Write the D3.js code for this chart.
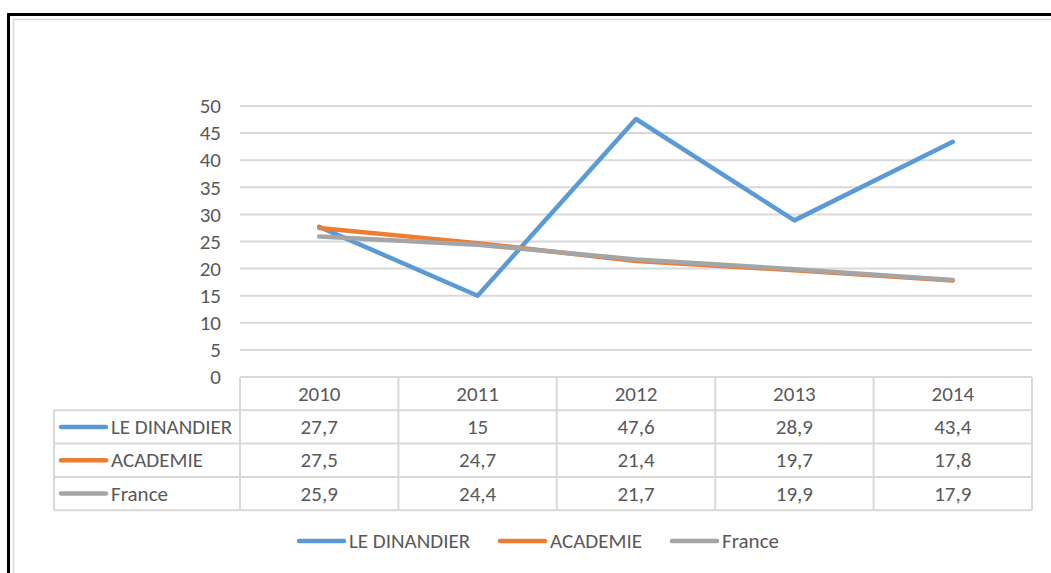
<!DOCTYPE html>
<html>
<head>
<meta charset="utf-8">
<script src="https://cdn.jsdelivr.net/npm/d3@7"></script>
<style>
  html, body { margin: 0; padding: 0; background: #fff; }
  svg { display: block; }
  text { font-family: Carlito, "Open Sans", "Noto Sans", sans-serif; fill: #595959; }
</style>
</head>
<body>
<svg id="chart" width="1051" height="573"></svg>
<script>
const years = ["2010", "2011", "2012", "2013", "2014"];
const seriesNames = ["LE DINANDIER", "ACADEMIE", "France"];
const dinandier = [27.7, 15, 47.6, 28.9, 43.4];
const academie = [27.5, 24.7, 21.4, 19.7, 17.8];
const france = [25.9, 24.4, 21.7, 19.9, 17.9];
const seriesColors = ["#5B9BD5", "#ED7D31", "#A5A5A5"];
const yTicks = [0, 5, 10, 15, 20, 25, 30, 35, 40, 45, 50];

const series = [
  { name: seriesNames[0], values: dinandier, color: seriesColors[0] },
  { name: seriesNames[1], values: academie, color: seriesColors[1] },
  { name: seriesNames[2], values: france, color: seriesColors[2] }
];
const fmt = v => String(v).replace(".", ",");
const FS = 21;

const svg = d3.select("#chart");

// outer frame
svg.append("line").attr("x1", 8.5).attr("x2", 8.5).attr("y1", 13).attr("y2", 573)
  .attr("stroke", "#000").attr("stroke-width", 3);
svg.append("line").attr("x1", 7).attr("x2", 1051).attr("y1", 14.5).attr("y2", 14.5)
  .attr("stroke", "#000").attr("stroke-width", 3);
svg.append("line").attr("x1", 13.5).attr("x2", 13.5).attr("y1", 19).attr("y2", 573)
  .attr("stroke", "#D9D9D9").attr("stroke-width", 1.5);
svg.append("line").attr("x1", 13).attr("x2", 1051).attr("y1", 19.5).attr("y2", 19.5)
  .attr("stroke", "#D9D9D9").attr("stroke-width", 1.5);

const plotLeft = 240, plotRight = 1032, plotTop = 106, plotBottom = 377;
const x = d3.scaleBand().domain(years).range([plotLeft, plotRight]);
const y = d3.scaleLinear().domain([0, 50]).range([plotBottom, plotTop]);

// gridlines
svg.append("g").selectAll("line").data(yTicks.filter(t => t > 0)).join("line")
  .attr("x1", plotLeft).attr("x2", plotRight)
  .attr("y1", d => y(d)).attr("y2", d => y(d))
  .attr("stroke", "#D9D9D9").attr("stroke-width", 2);

// y axis labels
const yAxis = d3.axisLeft(y).tickValues(yTicks).tickSize(0).tickPadding(0).tickFormat(d => d);
const yg = svg.append("g").attr("transform", `translate(221,0)`).call(yAxis);
yg.select(".domain").remove();
yg.selectAll("text").attr("font-size", FS).style("font-family", 'Carlito, "Open Sans", "Noto Sans", sans-serif').attr("fill", "#595959");

// data table
const tableLeft = 54;
const rowH = 33.3;
const headerTop = plotBottom;
const tableBottom = headerTop + 4 * rowH;
const tg = svg.append("g").attr("stroke", "#D9D9D9").attr("stroke-width", 2).attr("fill", "none");
tg.append("line").attr("x1", plotLeft).attr("x2", plotRight).attr("y1", headerTop).attr("y2", headerTop);
[1, 2, 3, 4].forEach(i => {
  tg.append("line").attr("x1", tableLeft).attr("x2", plotRight)
    .attr("y1", headerTop + i * rowH).attr("y2", headerTop + i * rowH);
});
tg.append("line").attr("x1", tableLeft).attr("x2", tableLeft).attr("y1", headerTop + rowH).attr("y2", tableBottom);
years.forEach(yr => {
  tg.append("line").attr("x1", x(yr)).attr("x2", x(yr)).attr("y1", headerTop).attr("y2", tableBottom);
});
tg.append("line").attr("x1", plotRight).attr("x2", plotRight).attr("y1", headerTop).attr("y2", tableBottom);

// header year labels
svg.append("g").selectAll("text").data(years).join("text")
  .attr("x", d => x(d) + x.bandwidth() / 2).attr("y", headerTop + rowH / 2)
  .attr("text-anchor", "middle").attr("dominant-baseline", "central")
  .attr("font-size", FS).text(d => d);

// rows
series.forEach((s, i) => {
  const cy = headerTop + (i + 1) * rowH + rowH / 2;
  const g = svg.append("g");
  g.append("line").attr("x1", 61).attr("x2", 106).attr("y1", cy).attr("y2", cy)
    .attr("stroke", s.color).attr("stroke-width", 4.5).attr("stroke-linecap", "round");
  g.append("text").attr("x", 111).attr("y", cy).attr("dominant-baseline", "central")
    .attr("font-size", FS).text(s.name);
  g.selectAll("text.v").data(s.values).join("text").attr("class", "v")
    .attr("x", (d, j) => x(years[j]) + x.bandwidth() / 2).attr("y", cy)
    .attr("text-anchor", "middle").attr("dominant-baseline", "central")
    .attr("font-size", FS).text(d => fmt(d));
});

// lines
const line = d3.line().x((d, j) => x(years[j]) + x.bandwidth() / 2).y(d => y(d));
series.forEach(s => {
  svg.append("path").datum(s.values).attr("d", line)
    .attr("fill", "none").attr("stroke", s.color).attr("stroke-width", 4.5)
    .attr("stroke-linecap", "round").attr("stroke-linejoin", "round");
});

// bottom legend
const legendY = 541;
const legendX = [299, 500, 672];
series.forEach((s, i) => {
  const g = svg.append("g");
  g.append("line").attr("x1", legendX[i]).attr("x2", legendX[i] + 45).attr("y1", legendY).attr("y2", legendY)
    .attr("stroke", s.color).attr("stroke-width", 4.5).attr("stroke-linecap", "round");
  g.append("text").attr("x", legendX[i] + 50).attr("y", legendY).attr("dominant-baseline", "central")
    .attr("font-size", FS).text(s.name);
});
</script>
</body>
</html>
